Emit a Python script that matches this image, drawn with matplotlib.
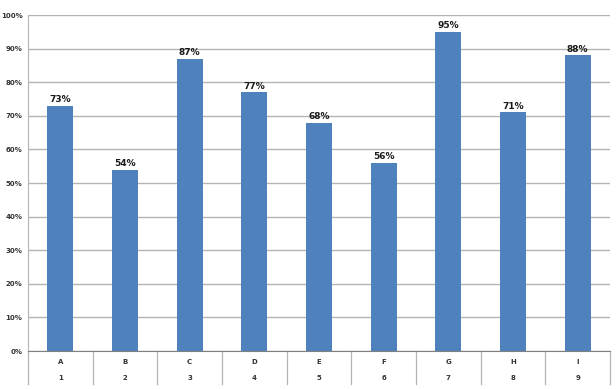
import matplotlib
matplotlib.use("Agg")
import matplotlib.pyplot as plt
import numpy as np

letters = ["A", "B", "C", "D", "E", "F", "G", "H", "I"]
numbers = ["1", "2", "3", "4", "5", "6", "7", "8", "9"]
values = [73, 54, 87, 77, 68, 56, 95, 71, 88]

bar_color = "#4F81BD"
grid_color = "#B4B4B4"

fig = plt.figure(figsize=(6.16, 3.89), dpi=100)
ax = fig.add_axes([28 / 616, 38 / 389, 582 / 616, 336 / 389])

x = np.arange(len(values))
ax.bar(x, values, width=0.4, color=bar_color, zorder=3)

for xi, v in zip(x, values):
    ax.text(xi, v + 0.4, f"{v}%", ha="center", va="bottom",
            fontsize=6.5, fontweight="bold", color="#1a1a1a", zorder=4)

ax.set_xlim(-0.5, len(values) - 0.5)
ax.set_ylim(0, 100)
ax.set_yticks(np.arange(0, 101, 10))
ax.set_yticklabels([f"{t}%" for t in range(0, 101, 10)],
                   fontsize=5, fontweight="bold", color="#333333")
ax.yaxis.grid(True, color=grid_color, linewidth=1.0, zorder=0)
ax.set_xticks([])
ax.tick_params(axis="y", length=0, pad=4)

for s in ["top", "right"]:
    ax.spines[s].set_visible(False)
ax.spines["left"].set_color(grid_color)
ax.spines["bottom"].set_color("#808080")

# category table under the axis
trans = ax.get_xaxis_transform()
for b in np.arange(-0.5, len(values), 1.0):
    ax.plot([b, b], [0, -0.098], transform=trans, color=grid_color,
            linewidth=0.9, clip_on=False)
for xi, lt, nm in zip(x, letters, numbers):
    ax.text(xi, -0.033, lt, transform=trans, ha="center", va="center",
            fontsize=5, fontweight="bold", color="#333333")
    ax.text(xi, -0.08, nm, transform=trans, ha="center", va="center",
            fontsize=5, fontweight="bold", color="#333333")

fig.savefig("out.png", dpi=100)
